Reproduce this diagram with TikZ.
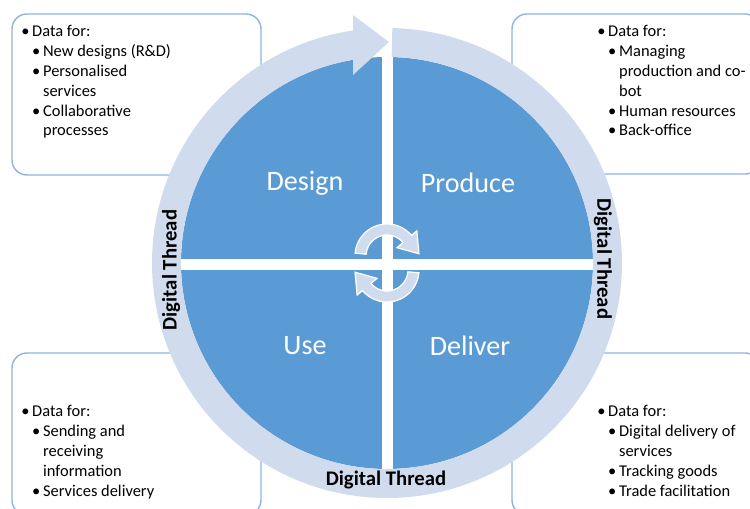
\documentclass[tikz,border=0pt]{standalone}
\usepackage{fontspec}
\setmainfont{Carlito}
\usepackage{tikz}
\usetikzlibrary{positioning}
\definecolor{discblue}{RGB}{91,155,213}
\definecolor{ringblue}{RGB}{208,220,238}
\definecolor{boxline}{RGB}{141,180,226}
\tikzset{
% Define standard styles
databox/.style={draw=boxline, line width=0.8pt, rounded corners=8.5pt, fill=white},
datatext/.style={anchor=north west, align=left, inner sep=0, font=\fontsize{9.35}{11.3}\selectfont},
phase/.style={text=white, inner sep=0, font=\fontsize{16}{19}\selectfont},
thread/.style={inner sep=0, font=\bfseries\fontsize{11.8}{14}\selectfont},
cyclearrow/.style={fill=ringblue, draw=white, line width=0.7pt}
}
\newcommand{\bulA}[1]{\makebox[6.2pt][l]{\textbullet}#1}
\newcommand{\bulB}[1]{\hspace*{6.2pt}\makebox[6.2pt][l]{\textbullet}#1}
\newcommand{\bulC}[1]{\hspace*{12.4pt}#1}

\begin{document}
\begin{tikzpicture}[x=0.02cm, y=0.02cm]
  \useasboundingbox (-387,-246) rectangle (363,263);

  % boxes
  \draw[databox] (-375,88) rectangle (-126,249);
  \draw[databox] (125,89) rectangle (373,249);
  \draw[databox] (-375,-252) rectangle (-126,-90);
  \draw[databox] (125,-252) rectangle (373,-90);

  \node[datatext] (tltext) at (-366,238) {\bulA{Data for:}\\ \bulB{New designs (R\&D)}\\ \bulB{Personalised}\\ \bulC{services}\\ \bulB{Collaborative}\\ \bulC{processes}};
  \node[datatext] (trtext) at (210,238) {\bulA{Data for:}\\ \bulB{Managing}\\ \bulC{production and co-}\\ \bulC{bot}\\ \bulB{Human resources}\\ \bulB{Back-office}};
  \node[datatext] (bltext) at (-366,-142) {\bulA{Data for:}\\ \bulB{Sending and}\\ \bulC{receiving}\\ \bulC{information}\\ \bulB{Services delivery}};
  \node[datatext] (brtext) at (210,-142) {\bulA{Data for:}\\ \bulB{Digital delivery of}\\ \bulC{services}\\ \bulB{Tracking goods}\\ \bulB{Trade facilitation}};

  % disc and cross
  \fill[discblue] (0,0) circle[radius=206];
  \fill[white] (-207,-7.5) rectangle (207,3.5);
  \fill[white] (-5,-207) rectangle (6,207);

  % ring with arrow head
  \fill[ringblue] (88.7:235) arc[start angle=88.7, end angle=-261.7, radius=235]
    -- (-34,248) -- (2,221) -- (-34,188) -- (-34,203.2)
    arc[start angle=-260.5, end angle=88.7, radius=206] -- cycle;

  % cycle arrows
  \begin{scope}[shift={(0,7)}]
    \filldraw[cyclearrow] (175:32) arc[start angle=175, end angle=40, radius=32]
      -- (40:39) -- (4:32) -- (40:13) -- (40:21)
      arc[start angle=40, end angle=175, radius=21] -- cycle;
  \end{scope}
  \begin{scope}[rotate=180, shift={(0,7)}]
    \filldraw[cyclearrow] (175:32) arc[start angle=175, end angle=40, radius=32]
      -- (40:39) -- (4:32) -- (40:13) -- (40:21)
      arc[start angle=40, end angle=175, radius=21] -- cycle;
  \end{scope}

  % phases
  \node[phase] (design) at (-82,80) {Design};
  \node[phase] (produce) at (81,80) {Produce};
  \node[phase] (use) at (-82,-83) {Use};
  \node[phase] (deliver) at (83,-83) {Deliver};

  % thread labels
  \node[thread] (tbottom) at (-1,-217) {Digital Thread};
  \node[thread, rotate=90] (tleft) at (-216,-7) {Digital Thread};
  \node[thread, rotate=-90] (tright) at (216,4) {Digital Thread};
\end{tikzpicture}
\end{document}
